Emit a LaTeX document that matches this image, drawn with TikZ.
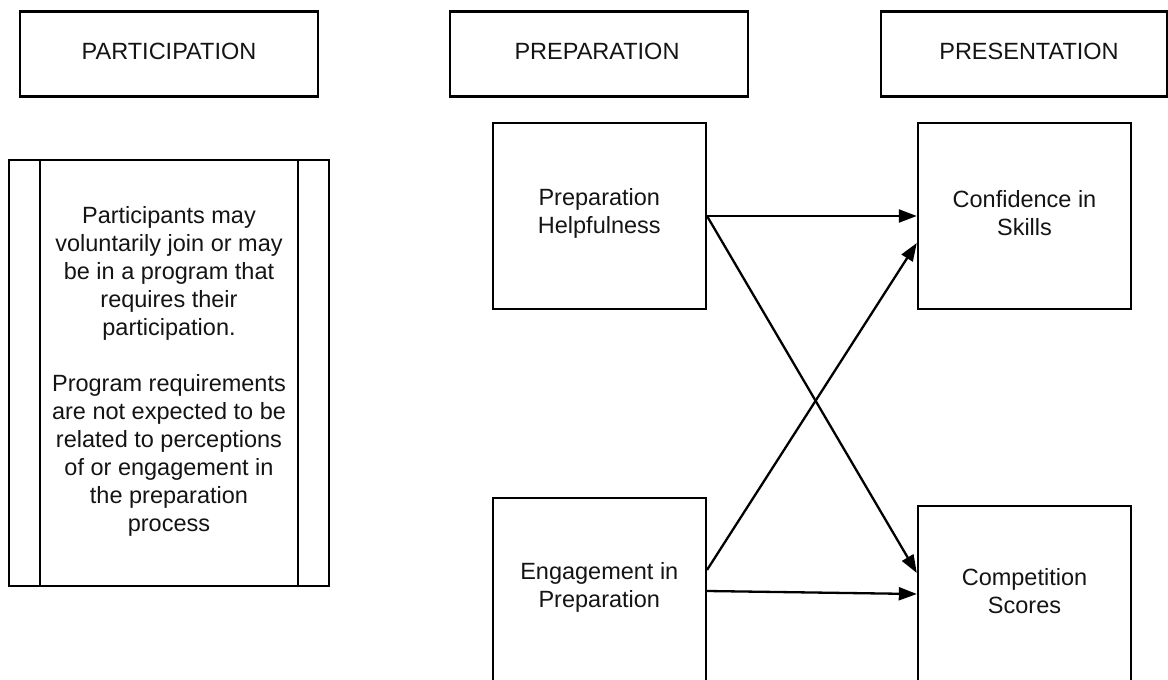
\documentclass[tikz,border=0pt]{standalone}
\usepackage{fontspec}
\setmainfont{Liberation Sans}
\usetikzlibrary{arrows.meta}
\begin{document}
\begin{tikzpicture}[x=1pt,y=-1pt,
  box/.style={draw=black, line width=2.4pt, inner sep=0pt, rectangle},
  lbl/.style={font=\fontsize{23.5}{28}\selectfont, align=center, text=black!92},
  arr/.style={line width=2.3pt, -{Triangle[length=18pt,width=13pt]}}]
\useasboundingbox[fill=white] (0,0) rectangle (1168,680);

% headers
\node[box, minimum width=298pt, minimum height=85pt] (hpart) at (169,54) {};
\node[lbl] (hpartt) at (169,51) {PARTICIPATION};
\node[box, minimum width=298pt, minimum height=85pt] (hprep) at (599,54) {};
\node[lbl] (hprept) at (597,51) {PREPARATION};
\node[box, minimum width=286pt, minimum height=85pt] (hpres) at (1024,54) {};
\node[lbl] (hprest) at (1029,51) {PRESENTATION};

% participation process box
\node[box, minimum width=320pt, minimum height=426pt] (pbox) at (169,373) {};
\draw[line width=2.4pt] ([xshift=32pt]pbox.north west) -- ([xshift=32pt]pbox.south west);
\draw[line width=2.4pt] ([xshift=-32pt]pbox.north east) -- ([xshift=-32pt]pbox.south east);
\node[lbl] (ptext) at (169,371) {Participants may\\voluntarily join or may\\be in a program that\\requires their\\participation.\\[28pt]Program requirements\\are not expected to be\\related to perceptions\\of or engagement in\\the preparation\\process};

% preparation boxes
\node[box, minimum width=213pt, minimum height=186pt] (help) at (599.3,216) {};
\node[lbl] (helpt) at (599.3,213) {Preparation\\Helpfulness};
\node[box, minimum width=213pt, minimum height=186pt] (eng) at (599.3,591) {};
\node[lbl] (engt) at (599.3,587) {Engagement in\\Preparation};

% presentation boxes
\node[box, minimum width=213pt, minimum height=186pt] (conf) at (1024.5,216) {};
\node[lbl] (conft) at (1024.5,213) {Confidence in\\Skills};
\node[box, minimum width=213pt, minimum height=186pt] (comp) at (1024.5,599) {};
\node[lbl] (compt) at (1024.5,591) {Competition\\Scores};

% arrows
\draw[arr] (help.east) -- (conf.west);
\draw[arr] (help.east) -- ([yshift=26pt]comp.west);
\draw[arr] ([yshift=21pt]eng.east) -- ([yshift=-27pt]conf.west);
\draw[arr] (eng.east) -- ([yshift=5pt]comp.west);
\end{tikzpicture}
\end{document}
